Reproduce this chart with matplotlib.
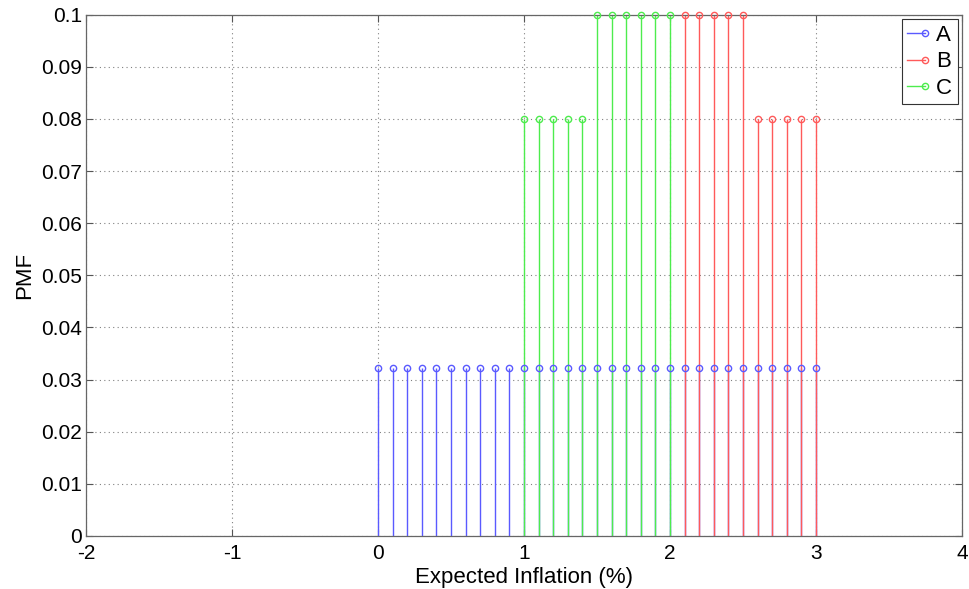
import numpy as np
import matplotlib
matplotlib.use('Agg')
import matplotlib.pyplot as plt
from matplotlib.lines import Line2D
from matplotlib.legend_handler import HandlerBase

plt.rcParams['font.family'] = ['Liberation Sans', 'DejaVu Sans']

# data
a_x = [round(0.1 * i, 1) for i in range(31)]
a_y = [0.03226] * 31
b_x = [2.1, 2.2, 2.3, 2.4, 2.5, 2.6, 2.7, 2.8, 2.9, 3.0]
b_y = [0.1, 0.1, 0.1, 0.1, 0.1, 0.08, 0.08, 0.08, 0.08, 0.08]
c_x = [1.0, 1.1, 1.2, 1.3, 1.4, 1.5, 1.6, 1.7, 1.8, 1.9, 2.0]
c_y = [0.08, 0.08, 0.08, 0.08, 0.08, 0.1, 0.1, 0.1, 0.1, 0.1, 0.1]

labels = ['A', 'B', 'C']
colors = ['#5a5aff', '#ff5a5a', '#4dec4d']
xticks = [-2, -1, 0, 1, 2, 3, 4]
yticks = [0, 0.01, 0.02, 0.03, 0.04, 0.05, 0.06, 0.07, 0.08, 0.09, 0.1]
yticklabels = ['0', '0.01', '0.02', '0.03', '0.04', '0.05', '0.06', '0.07', '0.08', '0.09', '0.1']


class EndMarkerHandler(HandlerBase):
    # line with the marker at its right end, MATLAB style
    def create_artists(self, legend, orig_handle, xdescent, ydescent,
                       width, height, fontsize, trans):
        y = height / 2.0 - ydescent
        line = Line2D([-xdescent, width - xdescent], [y, y],
                      color=orig_handle.get_color(), lw=orig_handle.get_linewidth())
        mk = Line2D([width - xdescent], [y], linestyle='none', marker='o',
                    markersize=orig_handle.get_markersize(), markerfacecolor='none',
                    markeredgecolor=orig_handle.get_color())
        line.set_transform(trans)
        mk.set_transform(trans)
        return [line, mk]


fig = plt.figure(figsize=(9.7, 5.89), dpi=100)
ax = fig.add_axes([0.0887, 0.09, 0.903, 0.885])

series = [(a_x, a_y), (b_x, b_y), (c_x, c_y)]
handles = []
for i, ((xs, ys), color, label) in enumerate(zip(series, colors, labels)):
    ml, sl, bl = ax.stem(xs, ys, basefmt=' ')
    sl.set_color(color)
    sl.set_linewidth(1.0)
    sl.set_zorder(2)
    ml.set_marker('o')
    ml.set_markersize(4.5)
    ml.set_markerfacecolor('none')
    ml.set_markeredgecolor(color)
    ml.set_markeredgewidth(1.0)
    ml.set_linestyle('none')
    ml.set_clip_on(False)
    ml.set_zorder(4 if i == 0 else 3)
    handles.append(Line2D([], [], color=color, lw=1.0, marker='o', markersize=4.5,
                          markerfacecolor='none', markeredgecolor=color))

ax.set_xlim(-2, 4)
ax.set_ylim(0, 0.1)
ax.set_xticks(xticks)
ax.set_xticklabels([str(t) for t in xticks])
ax.set_yticks(yticks)
ax.set_yticklabels(yticklabels)
ax.tick_params(direction='in', length=5, top=True, right=True, labelsize=15,
               color='#555555')
ax.tick_params(axis='x', pad=6)
ax.tick_params(axis='y', pad=3)
ax.grid(True, linestyle=(0, (1, 3)), color='#808080', linewidth=0.8)
ax.set_axisbelow(True)
for s in ax.spines.values():
    s.set_color('#666666')
    s.set_linewidth(0.9)

ax.set_xlabel('Expected Inflation (%)', fontsize=16, labelpad=3)
ax.set_ylabel('PMF', fontsize=16, labelpad=4)

leg = ax.legend(handles, labels, loc='upper right', fontsize=16,
                handler_map={Line2D: EndMarkerHandler()},
                handlelength=0.8, handletextpad=0.5, labelspacing=0.25,
                borderpad=0.25, borderaxespad=0.2, fancybox=False, framealpha=1)
leg.get_frame().set_edgecolor('#333333')
leg.get_frame().set_linewidth(0.8)

fig.savefig('out.png', dpi=100)
